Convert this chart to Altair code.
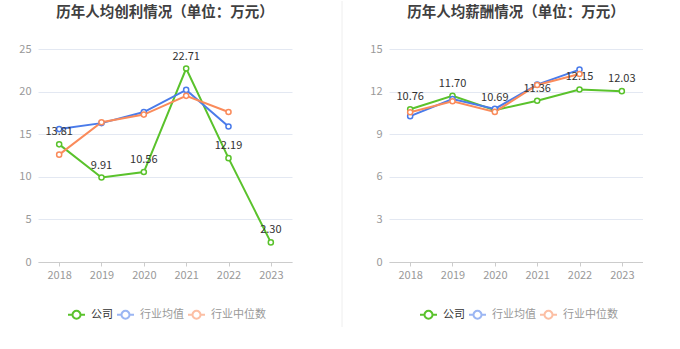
import altair as alt
import pandas as pd

FONT = "Noto Sans CJK SC"

years = ["2018", "2019", "2020", "2021", "2022", "2023"]
series_names = ["公司", "行业均值", "行业中位数"]
series_colors = ["#5ac22c", "#4a7bea", "#fa8b5b"]

profit_company = [13.81, 9.91, 10.56, 22.71, 12.19, 2.30]
profit_avg = [15.6, 16.3, 17.6, 20.2, 15.9]
profit_median = [12.6, 16.4, 17.3, 19.5, 17.6]

salary_company = [10.76, 11.70, 10.69, 11.36, 12.15, 12.03]
salary_avg = [10.27, 11.48, 10.78, 12.49, 13.55]
salary_median = [10.55, 11.32, 10.57, 12.47, 13.24]

profit_ticks = [0, 5, 10, 15, 20, 25]
salary_ticks = [0, 3, 6, 9, 12, 15]

titles = ["历年人均创利情况（单位：万元）", "历年人均薪酬情况（单位：万元）"]

SYMBOL = ("M-1,0L-0.47,0M0.47,0L1,0"
          "M-0.47,0A0.47,0.47,0,1,1,0.47,0A0.47,0.47,0,1,1,-0.47,0")

W, H = 254, 213


def make_df(company, avg, median):
    rows = []
    for name, vals in zip(series_names, [company, avg, median]):
        for yr, v in zip(years, vals):
            rows.append({"year": yr, "series": name, "value": v})
    return pd.DataFrame(rows)


def panel(df, title, ticks, legend_x, divider=False):
    base = alt.Chart(df)
    x = alt.X("year:N", sort=years, scale=alt.Scale(type="point", padding=0.5),
              axis=alt.Axis(title=None, labelAngle=0, domainColor="#cccccc",
                            tickColor="#cccccc", tickSize=4, labelColor="#999999",
                            labelFontSize=11, labelPadding=3, grid=False,
                            labelFont=FONT))
    y = alt.Y("value:Q", scale=alt.Scale(domain=[ticks[0], ticks[-1]], nice=False),
              axis=alt.Axis(title=None, values=ticks, domain=False, ticks=False,
                            labelColor="#999999", labelFontSize=11, labelPadding=7,
                            gridColor="#e3e8f2", minExtent=38, maxExtent=38,
                            labelFont=FONT))
    color_scale = alt.Scale(domain=series_names, range=series_colors)
    legend = alt.Legend(
        title=None, orient="none", legendX=legend_x, legendY=256,
        direction="horizontal", symbolType=SYMBOL, symbolSize=289,
        symbolStrokeWidth=2, symbolFillColor="white", labelFontSize=11,
        labelFont=FONT, labelOffset=5, columnPadding=0, padding=0,
        labelColor={"expr": "datum.value === '公司' ? '#333333' : '#999999'"},
        symbolOpacity={"expr": "datum.value === '公司' ? 1 : 0.55"},
    )
    lines = base.mark_line(strokeWidth=2).encode(
        x=x, y=y,
        color=alt.Color("series:N", scale=color_scale, legend=legend),
        detail="series:N",
    )
    points = base.mark_point(filled=False, fill="white", size=26, strokeWidth=1.5, opacity=1).encode(
        x=x, y=y,
        color=alt.Color("series:N", scale=color_scale, legend=None),
    )
    labels = base.transform_filter(alt.datum.series == "公司").mark_text(
        dy=-12, fontSize=11, color="#333333", font=FONT
    ).encode(x=x, y=y, text=alt.Text("value:Q", format=".2f"))
    title_mark = alt.Chart(pd.DataFrame({"t": [title]})).mark_text(
        fontSize=14.5, fontWeight="bold", color="#404040", font=FONT,
        align="center", baseline="middle"
    ).encode(x=alt.value(W / 2), y=alt.value(-36), text="t:N")
    layers = [lines, points, labels, title_mark]
    if divider:
        rule = alt.Chart(pd.DataFrame({"a": [0]})).mark_rule(
            color="#eeeeee", strokeWidth=1
        ).encode(x=alt.value(-47), y=alt.value(-48), y2=alt.value(278))
        layers = [rule] + layers
    return alt.layer(*layers).properties(width=W, height=H)


left = panel(make_df(profit_company, profit_avg, profit_median), titles[0], profit_ticks, 29)
right = panel(make_df(salary_company, salary_avg, salary_median), titles[1], salary_ticks, 30, divider=True)

chart = alt.hconcat(left, right, spacing=49).resolve_scale(
    y="independent", color="independent"
).resolve_legend(color="independent").properties(
    padding={"left": 0, "top": 0, "right": 0, "bottom": 0},
    background="white",
).configure_view(stroke=None)

chart.save("out.html", embed_options={"renderer": "svg", "actions": False})
